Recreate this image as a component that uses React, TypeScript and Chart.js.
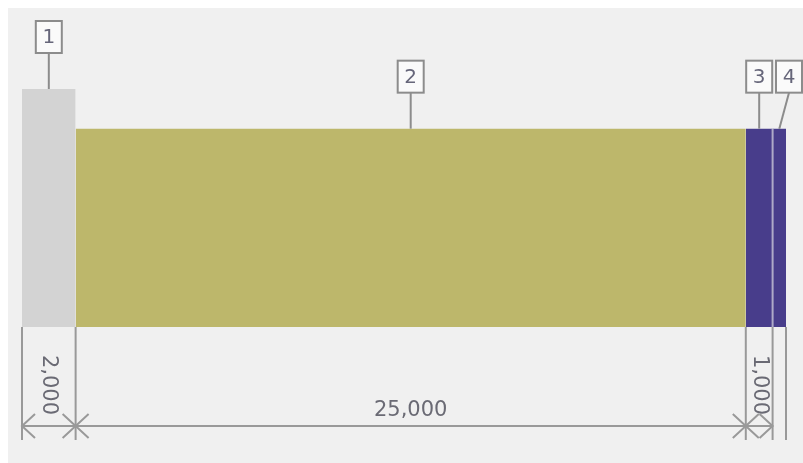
import React, { useEffect, useRef } from "react";
import { Chart, registerables } from "chart.js";

Chart.register(...registerables);

const segmentNames = ["1", "2", "3", "4"];
const segmentLengths = [2000, 25000, 1000, 500];
const segmentDiameters = [60, 50, 50, 50];
const segmentColors = ["#d3d3d3", "#bdb76b", "#483d8b", "#483d8b"];
const dimensioned = [true, true, true, false];

const CANVAS_W = 795;
const CANVAS_H = 455;

const starts: number[] = [];
{
  let acc = 0;
  for (const l of segmentLengths) {
    starts.push(acc);
    acc += l;
  }
}
const totalLength = segmentLengths.reduce((a, b) => a + b, 0);

const FONT = '"DejaVu Sans", Verdana, sans-serif';

const drawingPlugin = {
  id: "shaftDrawing",
  afterDatasetsDraw(chart: any) {
    const ctx: CanvasRenderingContext2D = chart.ctx;
    const xs = chart.scales.x;
    const ys = chart.scales.y;
    const bounds = [...starts, totalLength].map((v) => xs.getPixelForValue(v));
    const y0 = ys.getPixelForValue(0);
    const tops = segmentDiameters.map((d) => ys.getPixelForValue(d));

    ctx.save();
    // separator between adjacent equal-height segments 3 and 4
    ctx.strokeStyle = "#aeaac8";
    ctx.lineWidth = 2;
    ctx.beginPath();
    ctx.moveTo(bounds[3], tops[3]);
    ctx.lineTo(bounds[3], y0);
    ctx.stroke();

    // extension lines
    ctx.strokeStyle = "#999999";
    ctx.lineWidth = 2;
    for (const b of bounds) {
      ctx.beginPath();
      ctx.moveTo(b, y0);
      ctx.lineTo(b, y0 + 113);
      ctx.stroke();
    }

    // dimension line
    const yd = y0 + 99;
    let lastIdx = 0;
    dimensioned.forEach((d, i) => {
      if (d) lastIdx = i;
    });
    ctx.beginPath();
    ctx.moveTo(bounds[0], yd);
    ctx.lineTo(bounds[lastIdx + 1], yd);
    ctx.stroke();

    const ax = 13;
    const ay = 12;
    ctx.font = `21px ${FONT}`;
    ctx.fillStyle = "#6a6a74";
    segmentLengths.forEach((len, i) => {
      if (!dimensioned[i]) return;
      const l = bounds[i];
      const r = bounds[i + 1];
      ctx.strokeStyle = "#999999";
      ctx.beginPath();
      ctx.moveTo(l + ax, yd - ay);
      ctx.lineTo(l, yd);
      ctx.lineTo(l + ax, yd + ay);
      ctx.moveTo(r - ax, yd - ay);
      ctx.lineTo(r, yd);
      ctx.lineTo(r - ax, yd + ay);
      ctx.stroke();

      const text = len.toLocaleString("en-US");
      const tw = ctx.measureText(text).width;
      const cx = (l + r) / 2;
      if (tw + 6 > r - l) {
        ctx.save();
        ctx.translate(cx, y0 + 58);
        ctx.rotate(Math.PI / 2);
        ctx.textAlign = "center";
        ctx.textBaseline = "middle";
        ctx.fillText(text, 0, 0);
        ctx.restore();
      } else {
        ctx.textAlign = "center";
        ctx.textBaseline = "alphabetic";
        ctx.fillText(text, cx, yd - 10);
      }
    });

    // callouts
    const boxW = 26;
    const boxH = 32;
    let prevRight = -Infinity;
    segmentNames.forEach((name, i) => {
      const cx = (bounds[i] + bounds[i + 1]) / 2;
      let bx = Math.max(cx, prevRight + 6 + boxW / 2);
      bx = Math.min(bx, chart.width - boxW / 2 - 1);
      const bottom = tops[i] - 36;
      const top = bottom - boxH;
      prevRight = bx + boxW / 2;

      ctx.strokeStyle = "#8c8c8c";
      ctx.lineWidth = 2;
      ctx.beginPath();
      ctx.moveTo(bx, bottom);
      ctx.lineTo(cx, tops[i]);
      ctx.stroke();

      ctx.fillStyle = "#fafafa";
      ctx.fillRect(bx - boxW / 2, top, boxW, boxH);
      ctx.strokeRect(bx - boxW / 2, top, boxW, boxH);

      ctx.fillStyle = "#66667a";
      ctx.font = `20px ${FONT}`;
      ctx.textAlign = "center";
      ctx.textBaseline = "middle";
      ctx.fillText(name, bx, top + boxH / 2 + 1);
    });
    ctx.restore();
  },
};

export default function App() {
  const canvasRef = useRef<HTMLCanvasElement | null>(null);

  useEffect(() => {
    if (!canvasRef.current) return;
    const datasets = segmentLengths.map((len, i) => ({
      label: segmentNames[i],
      data: [
        { x: starts[i], y: segmentDiameters[i] },
        { x: starts[i] + len, y: segmentDiameters[i] },
      ],
      borderWidth: 0,
      borderColor: segmentColors[i],
      backgroundColor: segmentColors[i],
      pointRadius: 0,
      fill: "origin",
      tension: 0,
    }));
    const chart = new Chart(canvasRef.current, {
      type: "line",
      data: { datasets: datasets as any },
      options: {
        animation: false,
        responsive: false,
        layout: { padding: { left: 14, right: 17, top: 81, bottom: 136 } },
        plugins: {
          legend: { display: false },
          tooltip: { enabled: false },
          filler: { propagate: false },
        },
        scales: {
          x: { type: "linear", display: false, min: 0, max: totalLength },
          y: { type: "linear", display: false, min: 0, max: 60 },
        },
      },
      plugins: [drawingPlugin],
    });
    return () => chart.destroy();
  }, []);

  return (
    <div
      style={{
        position: "fixed",
        left: 8,
        top: 8,
        width: CANVAS_W,
        height: CANVAS_H,
        background: "#f0f0f0",
        overflow: "hidden",
      }}
    >
      <canvas ref={canvasRef} width={CANVAS_W} height={CANVAS_H} style={{ display: "block" }} />
    </div>
  );
}
